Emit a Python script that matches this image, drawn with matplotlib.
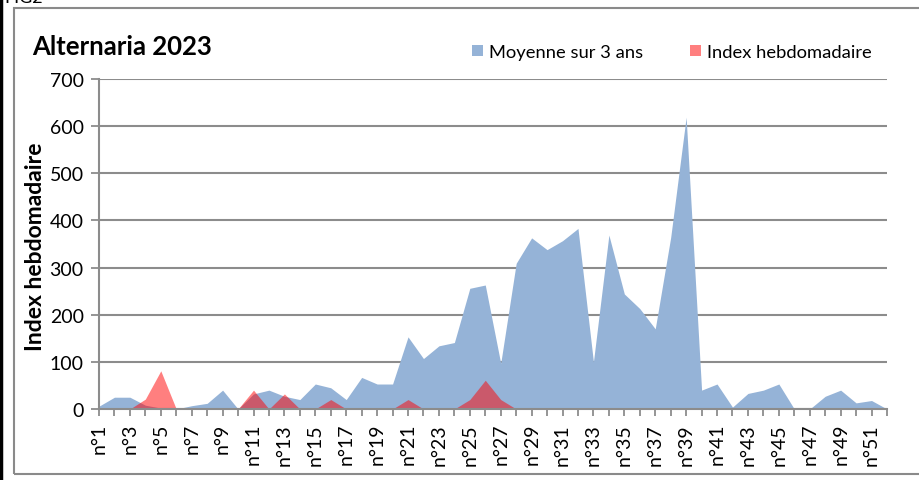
import matplotlib

matplotlib.use("Agg")

import matplotlib.pyplot as plt
from matplotlib.lines import Line2D
from matplotlib.patches import Rectangle

plt.rcParams["font.family"] = ["Lato", "DejaVu Sans"]

W, H = 919, 481
DPI = 100

weeks = [f"n°{i}" for i in range(1, 53)]

# Moyenne sur 3 ans
moyenne = [6, 25, 25, 8, 2, 0, 7, 12, 40, 0,
           32, 40, 27, 20, 53, 45, 20, 67, 53, 53,
           153, 107, 134, 141, 256, 263, 97, 309, 363, 338,
           357, 383, 100, 369, 244, 213, 170, 364, 619, 40,
           53, 4, 33, 40, 53, 0, 0, 27, 40, 13,
           18, 0]

# Index hebdomadaire 2023
index_hebdo = [0, 0, 0, 21, 81, 0, 0, 0, 0, 0,
               40, 0, 32, 0, 0, 20, 0, 0, 0, 0,
               20, 0, 0, 0, 20, 61, 20, 0, 0, 0,
               0, 0, 0, 0, 0, 0, 0, 0, 0, 0,
               0, 0, 0, 0, 0, 0, 0, 0, 0, 0,
               0, 0]

BLUE = "#95b3d7"
GRID = "#8c8c8c"

fig = plt.figure(figsize=(W / DPI, H / DPI), dpi=DPI, facecolor="white")

# cadre du graphique + trait noir à gauche
fig.patches.append(Rectangle((14 / W, 1 - 475 / H), (W + 10 - 14) / W, (475 - 9) / H,
                             transform=fig.transFigure, fill=False,
                             edgecolor="#8a8a8a", lw=1.5))
fig.lines.append(Line2D([1 / W, 1 / W], [0, 1], transform=fig.transFigure,
                        color="black", lw=2.5))
fig.text(4 / W, 1 - 3 / H, "FIG2", fontsize=13, va="baseline", ha="left")

ax = fig.add_axes([99 / W, 1 - 410 / H, (887 - 99) / W, (410 - 80) / H])
x = list(range(len(weeks)))
ax.fill_between(x, moyenne, 0, color=BLUE, lw=0, label="Moyenne sur 3 ans", zorder=2)
ax.fill_between(x, index_hebdo, 0, color="red", alpha=0.5, lw=0,
                label="Index hebdomadaire", zorder=3)

ax.set_xlim(0, len(weeks) - 1)
ax.set_ylim(0, 700)
ax.set_yticks(range(0, 701, 100))
ax.set_xticks(x)
ax.set_xticklabels([w if i % 2 == 0 else "" for i, w in enumerate(weeks)],
                   rotation=90, fontsize=14)
ax.tick_params(axis="y", labelsize=14, length=6, width=1.3, color=GRID, pad=5)
ax.tick_params(axis="x", length=5, width=1.3, color=GRID, pad=5)
ax.grid(axis="y", color=GRID, lw=1.5, zorder=1)
ax.set_axisbelow(True)
for side in ("top", "right"):
    ax.spines[side].set_visible(False)
for side in ("left", "bottom"):
    ax.spines[side].set_color(GRID)
    ax.spines[side].set_linewidth(1.5)
    ax.spines[side].set_zorder(4)

fig.text(32 / W, 1 - 47 / H, "Alternaria 2023", fontsize=18.5, fontweight="bold",
         va="center", ha="left")
fig.text(36 / W, 1 - 247 / H, "Index hebdomadaire", fontsize=16.5, fontweight="bold",
         rotation=90, va="center", ha="center")

ax.legend(loc="center left", bbox_to_anchor=(463 / W, 1 - 53 / H),
          bbox_transform=fig.transFigure, ncol=2, frameon=False, fontsize=13.2,
          handlelength=0.6, handleheight=0.6, handletextpad=0.3,
          columnspacing=2.6, borderpad=0)

fig.savefig("out.png", dpi=DPI, facecolor="white")
